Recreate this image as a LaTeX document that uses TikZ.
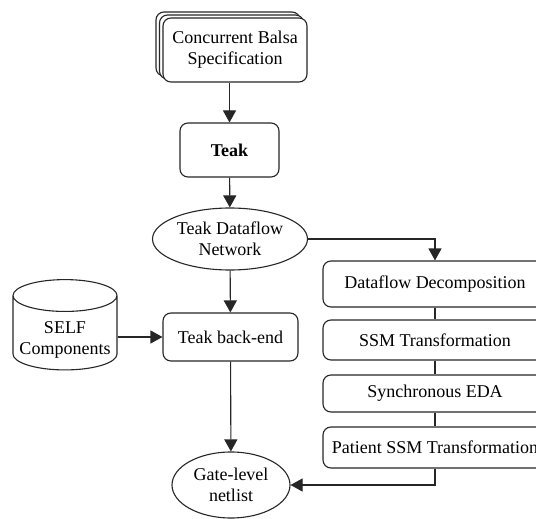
\documentclass[tikz,border=0pt]{standalone}
\usepackage{fontspec}
\setmainfont{Liberation Serif}
\usetikzlibrary{shapes.geometric,arrows.meta}

\tikzset{
    box/.style={draw, rounded corners=8pt, fill=white, align=center, inner sep=0pt},
    oval/.style={draw, ellipse, fill=white, align=center, inner sep=0pt},
    flow/.style={-{Triangle[length=12pt,width=13pt]}},
}

\begin{document}
\begin{tikzpicture}[x=1pt,y=-1pt,line width=1.1pt,draw=black!85,
                    font=\fontsize{18}{21}\selectfont]
    \useasboundingbox (0,0) rectangle (536,519);
    \clip (0,0) rectangle (536,519);
    % stacked specification
    \foreach \dx/\dy in {7/6,3.5/3}
    {
        \draw[rounded corners=8pt, fill=white] (163-\dx,18-\dy) rectangle (307-\dx,82-\dy);
    }
    \node[box, minimum width=144pt, minimum height=64pt] (spec) at (235,50) {Concurrent Balsa\\Specification};
    \node[box, minimum width=99pt, minimum height=54pt, font=\fontsize{18}{21}\selectfont\bfseries] (teak) at (229.5,150) {Teak};
    \node[oval, minimum width=155pt, minimum height=62pt] (dataflow) at (230,239) {Teak Dataflow\\Network};
    \node[box, minimum width=135pt, minimum height=48pt] (backend) at (230.5,337) {Teak back-end};
    \node[oval, minimum width=118pt, minimum height=66pt] (gate) at (231,485) {Gate-level\\netlist};
    \node[draw, cylinder, shape border rotate=90, aspect=0.35, minimum width=104pt, minimum height=66pt,
          align=center, inner sep=0pt, text height=42pt, text depth=-8pt] (self) at (65,333) {SELF\\Components};
    % transformation chain
    \node[box, minimum width=224pt, minimum height=46pt] (dfd) at (435,284) {Dataflow Decomposition};
    \node[box, minimum width=224pt, minimum height=40pt] (ssm) at (435,340) {SSM Transformation};
    \node[box, minimum width=224pt, minimum height=37pt] (sync) at (435,393.5) {Synchronous EDA};
    \node[box, minimum width=224pt, minimum height=41pt] (patient) at (435,447.5) {Patient SSM Transformation};
    % connectors
    \draw[flow] (spec.south -| teak.north) -- (teak.north);
    \draw[flow] (teak) -- (dataflow);
    \draw[flow] (dataflow) -- (backend);
    \draw[flow] (backend) -- (gate);
    \draw[flow] (self.east |- backend.west) -- (backend.west);
    \draw[flow] (dataflow.east) -| (dfd.north);
    \draw (dfd) -- (ssm);
    \draw (ssm) -- (sync);
    \draw (sync) -- (patient);
    \draw[flow] (patient.south) |- (gate.east);
\end{tikzpicture}
\end{document}
